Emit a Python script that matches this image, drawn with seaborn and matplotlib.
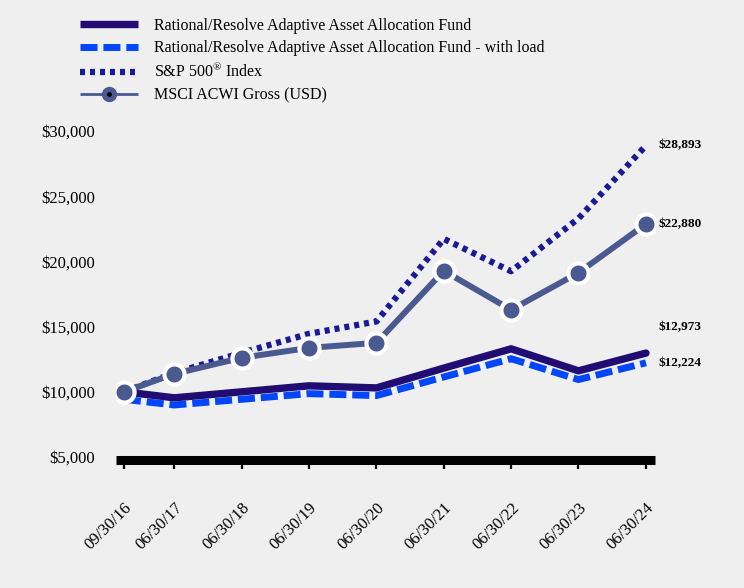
import numpy as np
import pandas as pd
import seaborn as sns
import matplotlib.pyplot as plt
from matplotlib.lines import Line2D

# Growth of $10,000
dates = ['2016-09-30', '2017-06-30', '2018-06-30', '2019-06-30', '2020-06-30',
         '2021-06-30', '2022-06-30', '2023-06-30', '2024-06-30']
date_labels = ['09/30/16', '06/30/17', '06/30/18', '06/30/19', '06/30/20',
               '06/30/21', '06/30/22', '06/30/23', '06/30/24']
fund = [10000, 9540, 10000, 10460, 10300, 11820, 13300, 11610, 12973]
fund_load = [9425, 8990, 9425, 9860, 9710, 11140, 12540, 10940, 12224]
sp500 = [10000, 11450, 12990, 14450, 15400, 21730, 19250, 23300, 28893]
msci = [10000, 11380, 12610, 13370, 13760, 19280, 16290, 19130, 22880]

names = ['Rational/Resolve Adaptive Asset Allocation Fund',
         'Rational/Resolve Adaptive Asset Allocation Fund - with load',
         'S&P 500$^{\\circledR}$ Index',
         'MSCI ACWI Gross (USD)']

df = pd.DataFrame({'date': pd.to_datetime(dates), 'fund': fund, 'fund_load': fund_load,
                   'sp500': sp500, 'msci': msci})

bg = '#efefef'
c_fund = '#200c72'
c_load = '#0046ff'
c_sp = '#1a1a96'
c_msci = '#4a5990'

sns.set_style('white', {'axes.facecolor': bg, 'figure.facecolor': bg,
                        'text.color': 'black', 'xtick.color': 'black',
                        'ytick.color': 'black', 'xtick.bottom': True})
plt.rcParams['font.family'] = ['Liberation Serif', 'DejaVu Serif']
plt.rcParams['mathtext.fontset'] = 'custom'
plt.rcParams['mathtext.rm'] = 'Liberation Serif'

fig = plt.figure(figsize=(7.44, 5.88), dpi=100, facecolor=bg)
ax = fig.add_axes([0.1559, 0.2228, 0.7245, 0.5542])

sns.lineplot(data=df, x='date', y='fund_load', ax=ax, color=c_load, lw=5,
             linestyle=(0, (2.45, 0.85)), zorder=2)
sns.lineplot(data=df, x='date', y='fund', ax=ax, color=c_fund, lw=5.3, zorder=3)
sns.lineplot(data=df, x='date', y='sp500', ax=ax, color=c_sp, lw=4.5,
             linestyle=(0, (0.8, 0.8)), zorder=4)
sns.lineplot(data=df, x='date', y='msci', ax=ax, color=c_msci, lw=4.3, marker='o',
             markersize=14.5, markerfacecolor=c_msci, markeredgecolor='white',
             markeredgewidth=3, zorder=5)

# end-of-period value labels
last = df['date'].iloc[-1]
for vals, dy in [(sp500, 0), (msci, 0), (fund, 19), (fund_load, 0)]:
    ax.annotate(f'${vals[-1]:,}', xy=(last, vals[-1]), xytext=(9, dy),
                textcoords='offset points', va='center', ha='left',
                fontsize=9.5, fontweight='bold', color='black')

# spines first: moving a spine resets the tick objects
for s in ['top', 'right', 'left']:
    ax.spines[s].set_visible(False)
ax.spines['bottom'].set_linewidth(6.5)
ax.spines['bottom'].set_color('black')
ax.spines['bottom'].set_capstyle('butt')
ax.spines['bottom'].set_position(('outward', 2.5))

ax.set_xlim(pd.Timestamp('2016-08-18'), pd.Timestamp('2024-08-18'))
ax.set_ylim(5000, 30000)
ax.set_yticks([5000, 10000, 15000, 20000, 25000, 30000])
ax.yaxis.set_major_formatter(plt.FuncFormatter(lambda v, p: f'${v:,.0f}'))
ax.tick_params(axis='y', left=False, length=0, pad=15, labelsize=12, labelcolor='black')
ax.tick_params(axis='x', bottom=True, length=6.5, width=1.6, color='black', pad=22,
               labelsize=12, direction='out', labelcolor='black')
ax.set_xticks(pd.to_datetime(dates))
ax.set_xticklabels(date_labels, rotation=45, ha='right', rotation_mode='anchor')
ax.set_xlabel('')
ax.set_ylabel('')

handles = [
    Line2D([], [], color=c_fund, lw=5.3, solid_capstyle='butt'),
    Line2D([], [], color=c_load, lw=5, linestyle=(0, (2.45, 0.85))),
    Line2D([], [], color=c_sp, lw=4.5, linestyle=(0, (0.8, 0.8))),
    (Line2D([], [], color=c_msci, lw=2, solid_capstyle='butt'),
     Line2D([], [], color=c_msci, marker='o', markersize=10, lw=0),
     Line2D([], [], color='black', marker='o', markersize=2.5, lw=0)),
]
fig.legend(handles, names, loc='upper left', bbox_to_anchor=(0.088, 0.994),
           frameon=False, fontsize=11.5, handlelength=3.63, handletextpad=1.0,
           labelspacing=0.4)

fig.savefig('out.png', dpi=100, facecolor=bg)
